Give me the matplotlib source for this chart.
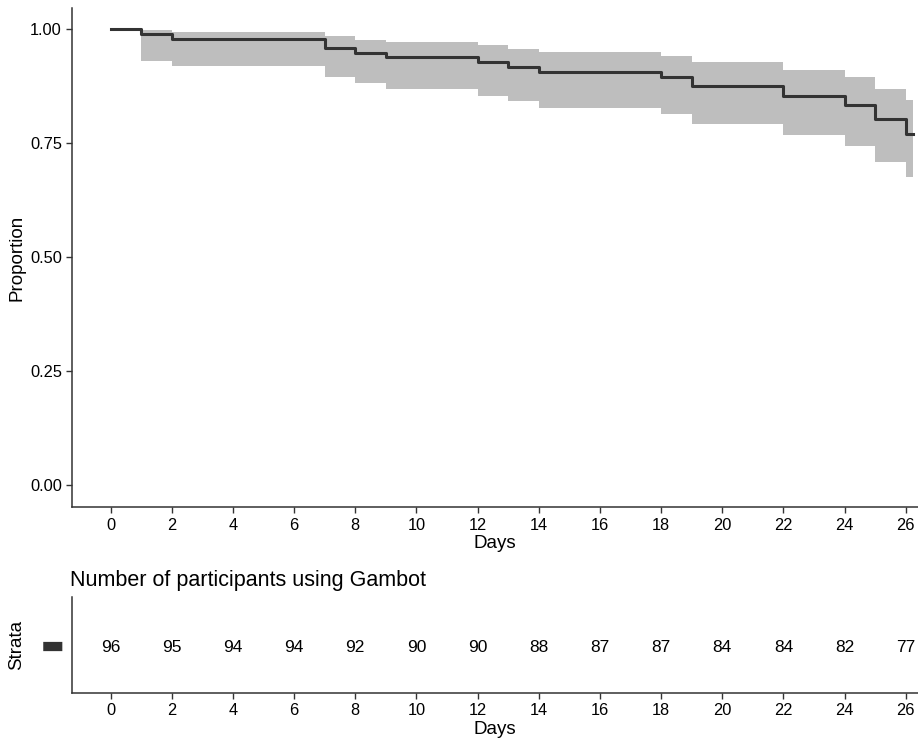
import matplotlib
matplotlib.use("Agg")
import matplotlib.pyplot as plt

plt.rcParams['font.family'] = ['Liberation Sans', 'DejaVu Sans']

# Kaplan-Meier estimate
times = [0, 1, 2, 7, 8, 9, 12, 13, 14, 18, 19, 22, 24, 25, 26]
surv = [1.0, 0.990, 0.979, 0.958, 0.948, 0.938, 0.927, 0.917, 0.906,
        0.896, 0.875, 0.854, 0.833, 0.802, 0.771]
upper = [1.0, 0.998, 0.993, 0.984, 0.977, 0.971, 0.965, 0.957, 0.950,
         0.942, 0.927, 0.911, 0.894, 0.868, 0.844]
lower = [1.0, 0.930, 0.920, 0.894, 0.881, 0.868, 0.854, 0.842, 0.828,
         0.815, 0.791, 0.768, 0.743, 0.709, 0.675]
end_time = 26.25

# number at risk table
risk_days = [0, 2, 4, 6, 8, 10, 12, 14, 16, 18, 20, 22, 24, 26]
at_risk = [96, 95, 94, 94, 92, 90, 90, 88, 87, 87, 84, 84, 82, 77]

line_col = '#333333'
band_col = '#bebebe'
xlim = (-1.25, 26.4)

fig = plt.figure(figsize=(9.18, 7.41), dpi=100)

# main survival plot
ax = fig.add_axes([0.0788, 0.3155, 0.9212, 0.6735])
t = times + [end_time]
s = surv + [surv[-1]]
up = upper + [upper[-1]]
lo = lower + [lower[-1]]
ax.fill_between(t, lo, up, step='post', color=band_col, lw=0)
ax.step(t, s, where='post', color=line_col, lw=2.2)
ax.set_xlim(*xlim)
ax.set_ylim(-0.048, 1.046)
ax.set_xticks(risk_days)
ax.set_yticks([0, 0.25, 0.5, 0.75, 1.0])
ax.set_yticklabels(['0.00', '0.25', '0.50', '0.75', '1.00'])
ax.set_xlabel('Days', fontsize=13.5, labelpad=2)
ax.set_ylabel('Proportion', fontsize=13.5, labelpad=3)

# risk table
tab = fig.add_axes([0.0788, 0.0648, 0.9212, 0.1296])
for d, n in zip(risk_days, at_risk):
    tab.text(d, -0.05, str(n), ha='center', va='center', fontsize=12.5, color='black')
tab.set_xlim(*xlim)
tab.set_ylim(-1, 1)
tab.set_xticks(risk_days)
tab.set_yticks([0.03])
tab.set_yticklabels(['\u25ac'], family='DejaVu Sans')
tab.set_xlabel('Days', fontsize=13.5, labelpad=2)
tab.set_ylabel('Strata', fontsize=13.5, labelpad=11)
tab.set_title('Number of participants using Gambot', fontsize=15.5,
              loc='left', x=-0.003, pad=8)

for a in (ax, tab):
    for side in ('top', 'right'):
        a.spines[side].set_visible(False)
    for side in ('left', 'bottom'):
        a.spines[side].set_color(line_col)
        a.spines[side].set_linewidth(1.1)
    a.tick_params(axis='both', labelsize=11.8, colors=line_col, labelcolor='black',
                  width=1, length=4)
tab.tick_params(axis='y', length=0, pad=6, labelcolor=line_col, labelsize=18)

fig.savefig('out.png', dpi=100)
